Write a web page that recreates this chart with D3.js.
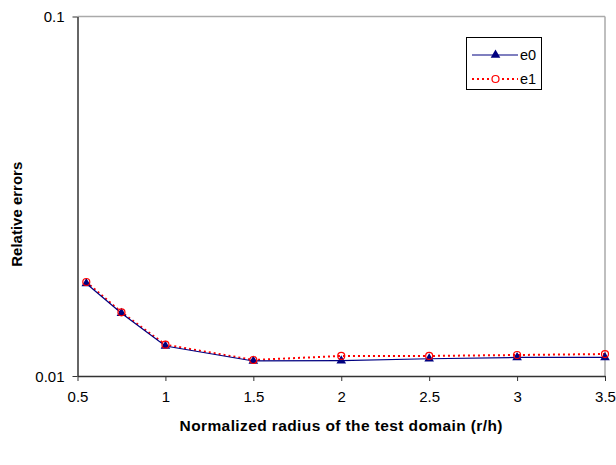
<!DOCTYPE html>
<html><head><meta charset="utf-8">
<script src="https://cdn.jsdelivr.net/npm/d3@7"></script>
<style>body{margin:0;background:#fff}svg{display:block}</style>
</head><body>
<svg id="c" width="616" height="465"></svg>
<script>
const xValues = [0.55, 0.75, 1, 1.5, 2, 2.5, 3, 3.5];
const e0 = [0.01808, 0.01494, 0.01212, 0.01101, 0.01103, 0.01117, 0.01126, 0.01126];
const e1 = [0.01826, 0.01504, 0.01222, 0.01108, 0.01137, 0.01137, 0.01144, 0.01151];
const xTicks = [0.5, 1, 1.5, 2, 2.5, 3, 3.5];
const yTicks = [0.01, 0.1];
const seriesNames = ["e0", "e1"];

const svg = d3.select("#c");
const m = {l: 77.5, r: 605, t: 16.5, b: 376};
const x = d3.scaleLinear().domain([0.5, 3.5]).range([m.l, m.r]);
const y = d3.scaleLog().domain([0.01, 0.1]).range([m.b, m.t]);
const font = "Liberation Sans, Arial, sans-serif";

// frame: top and right gray
svg.append("line").attr("x1", m.l).attr("x2", m.r).attr("y1", m.t).attr("y2", m.t).attr("stroke", "#aaa").attr("stroke-width", 1.5);
svg.append("line").attr("x1", m.r).attr("x2", m.r).attr("y1", m.t).attr("y2", m.b).attr("stroke", "#aaa").attr("stroke-width", 1.5);

const xAxis = svg.append("g").attr("transform", `translate(0,${m.b})`)
  .call(d3.axisBottom(x).tickValues(xTicks).tickFormat(d3.format("")).tickSize(5).tickSizeOuter(0));
const yAxis = svg.append("g").attr("transform", `translate(${m.l},0)`)
  .call(d3.axisLeft(y).tickValues(yTicks).tickFormat(d => String(d)).tickSize(5).tickSizeOuter(0));
[xAxis, yAxis].forEach(g => {
  g.selectAll("path").attr("stroke", "#333").attr("stroke-width", 1.5);
  g.selectAll("line").attr("stroke", "#333");
  g.selectAll("text").attr("font-family", font).attr("font-size", 15).attr("fill", "#000");
});
xAxis.selectAll("text").attr("y", 0).attr("dy", 0).attr("transform", null).attr("y", 26);
yAxis.selectAll("text").attr("dy", "0.35em").attr("x", -13);

// axis titles
svg.append("text").attr("x", (m.l + m.r) / 2).attr("y", 431).attr("text-anchor", "middle")
  .attr("font-family", font).attr("font-size", 15.5).attr("font-weight", "bold").attr("letter-spacing", 0.4)
  .text("Normalized radius of the test domain (r/h)");
svg.append("text").attr("transform", `translate(22,${(m.t + m.b) / 2 + 18}) rotate(-90)`).attr("text-anchor", "middle")
  .attr("font-family", font).attr("font-size", 15).attr("font-weight", "bold").text("Relative errors");

const line = d3.line().x((d, i) => x(xValues[i])).y(d => y(d));
const tri = d3.symbol().type(d3.symbolTriangle).size(40);

// e1 red dotted
svg.append("path").datum(e1).attr("d", line).attr("fill", "none").attr("stroke", "#ff0000").attr("stroke-width", 2).attr("stroke-dasharray", "2,3");
// e0 navy
svg.append("path").datum(e0).attr("d", line).attr("fill", "none").attr("stroke", "#000080").attr("stroke-width", 1.2);
svg.selectAll(".t").data(e0).enter().append("path").attr("d", tri)
  .attr("transform", (d, i) => `translate(${x(xValues[i])},${y(d)})`).attr("fill", "#000080");
svg.selectAll(".c").data(e1).enter().append("circle")
  .attr("cx", (d, i) => x(xValues[i])).attr("cy", d => y(d)).attr("r", 3.5)
  .attr("fill", "none").attr("stroke", "#ff0000").attr("stroke-width", 1.2);

// legend
const lg = svg.append("g");
lg.append("rect").attr("x", 466.5).attr("y", 37.5).attr("width", 75).attr("height", 52).attr("fill", "#fff").attr("stroke", "#000").attr("stroke-width", 1);
const rows = [55, 79];
lg.append("line").attr("x1", 472).attr("x2", 518).attr("y1", rows[0]).attr("y2", rows[0]).attr("stroke", "#000080").attr("stroke-width", 1.2);
lg.append("path").attr("d", tri).attr("transform", `translate(495.5,${rows[0]})`).attr("fill", "#000080");
lg.append("line").attr("x1", 472).attr("x2", 518).attr("y1", rows[1]).attr("y2", rows[1]).attr("stroke", "#ff0000").attr("stroke-width", 2).attr("stroke-dasharray", "2,3");
lg.append("circle").attr("cx", 495.5).attr("cy", rows[1]).attr("r", 3.5).attr("fill", "#fff").attr("stroke", "#ff0000").attr("stroke-width", 1.2);
seriesNames.forEach((n, i) => {
  lg.append("text").attr("x", 520).attr("y", rows[i]).attr("dy", "0.35em").attr("font-family", font).attr("font-size", 14.5).text(n);
});
</script>
</body></html>
